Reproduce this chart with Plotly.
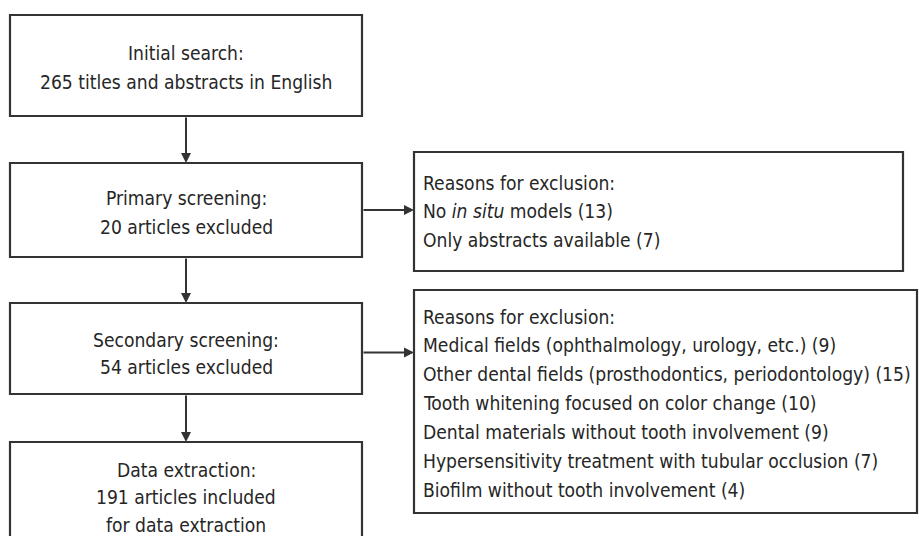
import plotly.graph_objects as go

W, H = 919, 536
FONT = "DejaVu Sans Condensed, Liberation Sans Narrow, sans-serif"
FS = 19.1
TXT = "#262626"
LINE = "#333333"

# Flow content
main_boxes = [
    ["Initial search:", "265 titles and abstracts in English"],
    ["Primary screening:", "20 articles excluded"],
    ["Secondary screening:", "54 articles excluded"],
    ["Data extraction:", "191 articles included", "for data extraction"],
]
side_boxes = [
    ["Reasons for exclusion:",
     "No <i>in situ</i> models (13)",
     "Only abstracts available (7)"],
    ["Reasons for exclusion:",
     "Medical fields (ophthalmology, urology, etc.) (9)",
     "Other dental fields (prosthodontics, periodontology) (15)",
     "Tooth whitening focused on color change (10)",
     "Dental materials without tooth involvement (9)",
     "Hypersensitivity treatment with tubular occlusion (7)",
     "Biofilm without tooth involvement (4)"],
]

# Layout geometry (pixels)
main_x0, main_x1 = 10, 362
main_y = [(15, 116), (163, 257), (303, 394), (442, 560)]
main_first_line = [53, 198, 340, 470]
main_step = [29, 29, 27, 27.5]
side_x0 = 414
side_x1 = [903, 917]
side_y = [(152, 271), (290, 513)]
side_first_line = [183, 317]
side_step = [28.5, 28.9]
side_from_main = [1, 2]

fig = go.Figure()
shapes = []
ann = []
cx = (main_x0 + main_x1) / 2

for i, lines in enumerate(main_boxes):
    y0, y1 = main_y[i]
    shapes.append(dict(type="rect", x0=main_x0, x1=main_x1, y0=y0, y1=y1,
                       xref="x", yref="y", line=dict(color=LINE, width=2.2),
                       fillcolor="white", layer="below"))
    for j, t in enumerate(lines):
        ann.append(dict(x=cx, y=main_first_line[i] + j * main_step[i], text=t,
                        showarrow=False, xanchor="center", yanchor="middle",
                        font=dict(family=FONT, size=FS, color=TXT)))
    if i > 0:
        ann.append(dict(x=cx, y=y0, ax=cx, ay=main_y[i - 1][1], xref="x", yref="y",
                        axref="x", ayref="y", text="", showarrow=True,
                        arrowhead=2, arrowsize=1, arrowwidth=2, arrowcolor=LINE))

for k, lines in enumerate(side_boxes):
    y0, y1 = side_y[k]
    shapes.append(dict(type="rect", x0=side_x0, x1=side_x1[k], y0=y0, y1=y1,
                       xref="x", yref="y", line=dict(color=LINE, width=2.2),
                       fillcolor="white", layer="below"))
    for j, t in enumerate(lines):
        ann.append(dict(x=side_x0 + 7, y=side_first_line[k] + j * side_step[k], text=t,
                        showarrow=False, xanchor="left", yanchor="middle",
                        font=dict(family=FONT, size=FS, color=TXT)))
    m = side_from_main[k]
    ym = sum(main_y[m]) / 2 + (0 if k == 0 else 4)
    ann.append(dict(x=side_x0, y=ym, ax=main_x1, ay=ym, xref="x", yref="y",
                    axref="x", ayref="y", text="", showarrow=True,
                    arrowhead=2, arrowsize=1, arrowwidth=2, arrowcolor=LINE))

fig.update_layout(
    width=W, height=H, margin=dict(l=0, r=0, t=0, b=0),
    paper_bgcolor="white", plot_bgcolor="white",
    xaxis=dict(range=[0, W], visible=False, fixedrange=True),
    yaxis=dict(range=[H, 0], visible=False, fixedrange=True),
    shapes=shapes, annotations=ann, showlegend=False,
)
fig.write_html("out.html", config={"displayModeBar": False},
               post_script="document.body.style.margin='0';")
